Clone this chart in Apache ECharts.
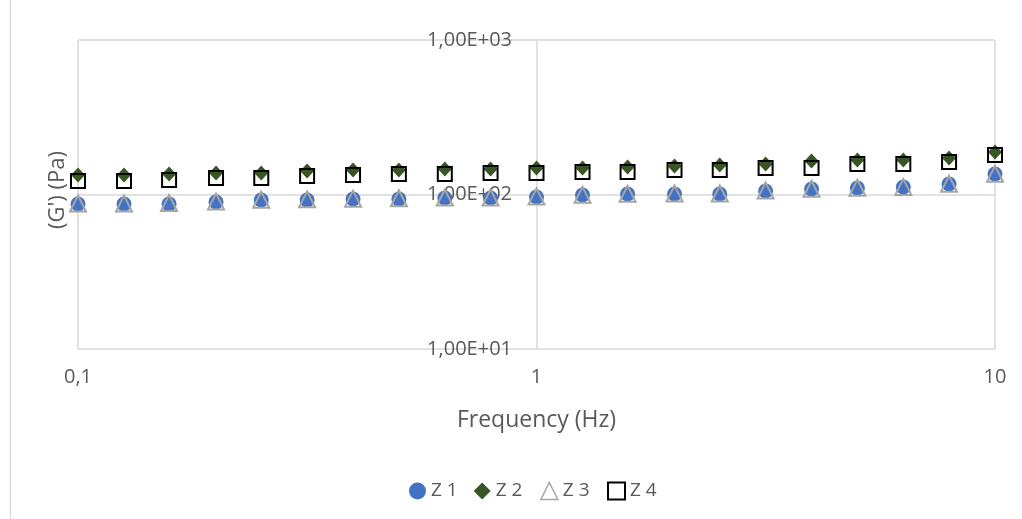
<!DOCTYPE html>
<html>
<head>
<meta charset="utf-8">
<script src="https://cdn.jsdelivr.net/npm/echarts@6/dist/echarts.min.js"></script>
<style>
  html, body { margin: 0; padding: 0; background: #fff; }
  #main { width: 1022px; height: 519px; }
</style>
</head>
<body>
<div id="main"></div>
<script>
// frequency sweep, 10 points per decade
var freq = [0.1, 0.126, 0.158, 0.2, 0.251, 0.316, 0.398, 0.501, 0.631, 0.794,
            1, 1.26, 1.58, 2, 2.51, 3.16, 3.98, 5.01, 6.31, 7.94, 10];

var z1 = [86.8, 86.8, 86.8, 89.4, 92.1, 92.1, 93.5, 93.5, 94.9, 94.9,
          96.3, 99.3, 100.7, 100.7, 100.7, 105.3, 108.5, 110.2, 111.8, 116.9, 135.8];
var z2 = [133.7, 133.7, 135.8, 137.8, 137.8, 141.9, 144.0, 144.0, 146.2, 146.2,
          148.4, 148.4, 150.6, 152.9, 155.2, 157.5, 164.8, 167.3, 167.3, 172.3, 188.6];
var z3 = [87.5, 87.5, 88.0, 90.0, 92.5, 93.0, 94.0, 94.5, 95.5, 95.5,
          97.0, 99.5, 101.0, 101.5, 101.5, 106.0, 109.0, 110.5, 112.0, 117.5, 136.0];
var z4 = [122.3, 122.3, 124.1, 127.9, 127.9, 131.7, 133.7, 135.8, 135.8, 137.8,
          137.8, 139.9, 139.9, 144.0, 144.0, 148.4, 148.4, 157.5, 157.5, 162.3, 180.1];

var font = '"Open Sans", "Noto Sans", sans-serif';
var txt = '#595959';
var gridCol = '#D9D9D9';

function pairs(ys) {
  var out = [];
  for (var i = 0; i < freq.length; i++) out.push([freq[i], ys[i]]);
  return out;
}

var myChart = echarts.init(document.getElementById('main'));

myChart.setOption({
  animation: false,
  backgroundColor: '#fff',
  textStyle: { fontFamily: font },
  grid: { left: 78, right: 27, top: 40, bottom: 170 },
  graphic: [
    { type: 'rect', left: 8, top: -5, shape: { width: 1040, height: 540 },
      style: { fill: 'none', stroke: gridCol, lineWidth: 1.3 }, silent: true },
    { type: 'text', x: 58, y: 190, rotation: Math.PI / 2,
      style: { text: "(G') (Pa)", fill: txt, font: '22px ' + font, align: 'center', verticalAlign: 'middle' } }
  ],
  legend: {
    bottom: 12,
    left: 404,
    itemGap: 16,
    itemWidth: 17,
    itemHeight: 17,
    textStyle: { color: txt, fontSize: 19, fontFamily: font },
    data: [
      { name: 'Z 1', icon: 'circle', itemStyle: { color: '#4472C4' } },
      { name: 'Z 2', icon: 'diamond', itemStyle: { color: '#375623' } },
      { name: 'Z 3', icon: 'triangle', itemStyle: { color: 'none', borderColor: '#A5A5A5', borderWidth: 1.5 } },
      { name: 'Z 4', icon: 'rect', itemStyle: { color: 'none', borderColor: '#000', borderWidth: 2 } }
    ]
  },
  xAxis: {
    type: 'log',
    logBase: 10,
    min: 0.1,
    max: 10,
    name: 'Frequency (Hz)',
    nameLocation: 'middle',
    nameGap: 60,
    nameTextStyle: { color: txt, fontSize: 23, fontFamily: font },
    axisLine: { show: false },
    axisTick: { show: false },
    axisLabel: {
      color: txt, fontSize: 20, margin: 18,
      formatter: function (v) { return String(+v.toPrecision(3)).replace('.', ','); }
    },
    splitLine: { show: true, lineStyle: { color: gridCol, width: 1.5 } }
  },
  yAxis: {
    type: 'log',
    logBase: 10,
    min: 10,
    max: 1000,
    offset: -458,
    axisLine: { show: false },
    axisTick: { show: false },
    axisLabel: {
      color: txt, fontSize: 20, margin: 24,
      formatter: function (v) {
        var e = Math.round(Math.log10(v));
        return '1,00E+' + (e < 10 ? '0' : '') + e;
      }
    },
    splitLine: { show: true, lineStyle: { color: gridCol, width: 1.5 } }
  },
  series: [
    { name: 'Z 1', type: 'scatter', data: pairs(z1), symbol: 'circle', symbolSize: 15,
      itemStyle: { color: '#4472C4', opacity: 1 } },
    { name: 'Z 2', type: 'scatter', data: pairs(z2), symbol: 'diamond', symbolSize: [14, 15],
      itemStyle: { color: '#375623', opacity: 1 } },
    { name: 'Z 3', type: 'scatter', data: pairs(z3), symbol: 'triangle', symbolSize: 16,
      itemStyle: { color: 'none', borderColor: '#A5A5A5', borderWidth: 2, opacity: 1 } },
    { name: 'Z 4', type: 'scatter', data: pairs(z4), symbol: 'rect', symbolSize: 14,
      itemStyle: { color: 'none', borderColor: '#000', borderWidth: 2, opacity: 1 } }
  ]
});
</script>
</body>
</html>
